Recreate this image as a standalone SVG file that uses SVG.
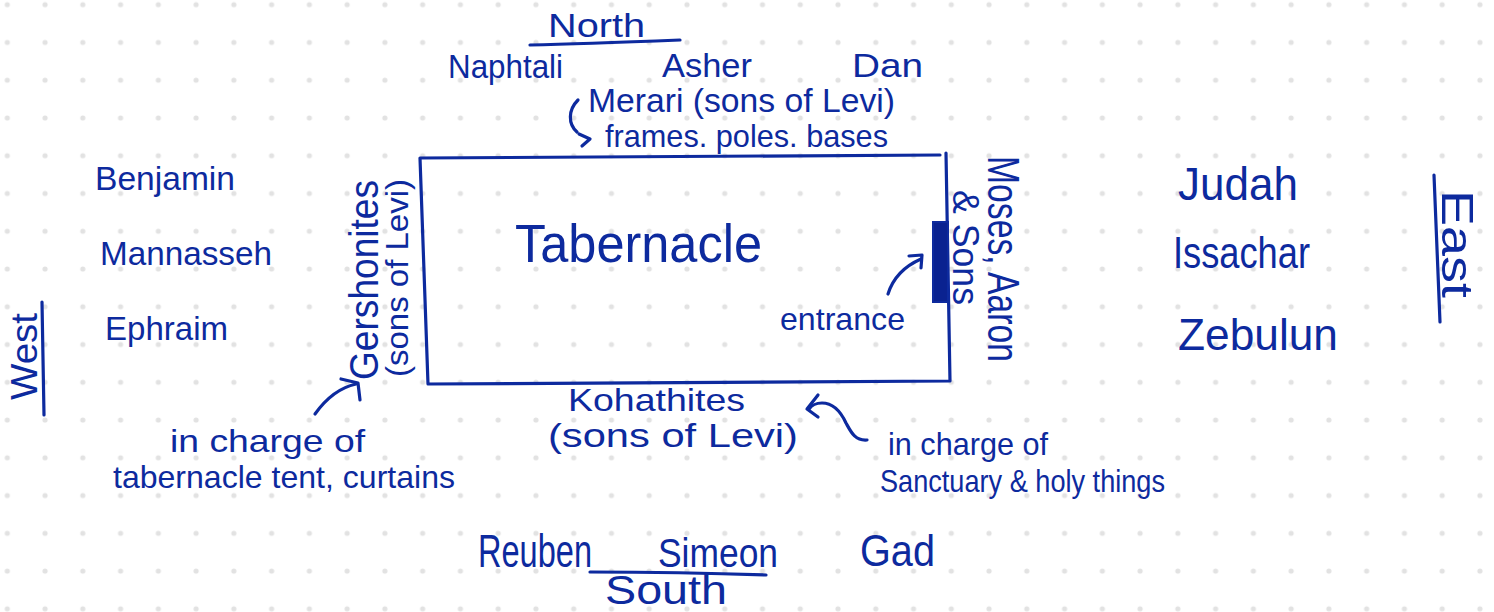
<svg xmlns="http://www.w3.org/2000/svg" width="1494" height="612" viewBox="0 0 1494 612">
  <defs>
    <pattern id="dots" patternUnits="userSpaceOnUse" x="-11.58" y="-14.22" width="37.76" height="37.76">
      <circle cx="18.88" cy="18.88" r="2.6" fill="#e2e2e2"/>
    </pattern>
    <style>
      text { font-family: "Liberation Sans", "DejaVu Sans", sans-serif; fill: #0d2a9e; }
      .ink { fill: none; stroke: #0d2a9e; stroke-width: 3.2; stroke-linecap: round; stroke-linejoin: round; }
    </style>
  </defs>
  <rect width="1494" height="612" fill="#ffffff"/>
  <rect width="1494" height="612" fill="url(#dots)"/>

  <g id="tabernacle">
    <path class="ink" d="M 420 158 L 940 155 M 946 153 L 950 381 L 428 384 L 420 158"/>
    <text x="515" y="262" font-size="54" textLength="247" lengthAdjust="spacingAndGlyphs">Tabernacle</text>
  </g>
  <g id="entrance">
    <rect x="933" y="222" width="15" height="80" fill="#0a2290" stroke="#0d2a9e" stroke-width="2"/>
    <text x="780" y="330" font-size="32" textLength="125" lengthAdjust="spacingAndGlyphs">entrance</text>
  </g>

  <g id="north">
    <text x="548" y="37" font-size="34" textLength="97" lengthAdjust="spacingAndGlyphs">North</text>
    <path class="ink" d="M 530 45 C 580 44, 630 42, 680 40"/>
  </g>
  <g id="naphtali"><text x="448" y="78" font-size="34" textLength="115" lengthAdjust="spacingAndGlyphs">Naphtali</text></g>
  <g id="asher"><text x="662" y="77" font-size="34" textLength="90" lengthAdjust="spacingAndGlyphs">Asher</text></g>
  <g id="dan"><text x="852" y="77" font-size="34" textLength="71" lengthAdjust="spacingAndGlyphs">Dan</text></g>
  <g id="merari">
    <text x="588" y="112" font-size="34" textLength="307" lengthAdjust="spacingAndGlyphs">Merari (sons of Levi)</text>
    <text x="605" y="147" font-size="32" textLength="283" lengthAdjust="spacingAndGlyphs">frames. poles. bases</text>
  </g>

  <g id="benjamin"><text x="95" y="190" font-size="34" textLength="140" lengthAdjust="spacingAndGlyphs">Benjamin</text></g>
  <g id="mannasseh"><text x="100" y="265" font-size="34" textLength="172" lengthAdjust="spacingAndGlyphs">Mannasseh</text></g>
  <g id="ephraim"><text x="105" y="340" font-size="34" textLength="123" lengthAdjust="spacingAndGlyphs">Ephraim</text></g>
  <g id="west">
    <text transform="translate(37,400) rotate(-90)" font-size="36" textLength="87" lengthAdjust="spacingAndGlyphs">West</text>
    <path class="ink" d="M 42 302 L 44 415"/>
  </g>

  <g id="judah"><text x="1178" y="200" font-size="46" textLength="120" lengthAdjust="spacingAndGlyphs">Judah</text></g>
  <g id="issachar"><text x="1173" y="268" font-size="44" textLength="137" lengthAdjust="spacingAndGlyphs">Issachar</text></g>
  <g id="zebulun"><text x="1178" y="350" font-size="44" textLength="160" lengthAdjust="spacingAndGlyphs">Zebulun</text></g>
  <g id="east">
    <text transform="translate(1442,190) rotate(90)" font-size="44" textLength="108" lengthAdjust="spacingAndGlyphs">East</text>
    <path class="ink" d="M 1434 175 L 1440 322"/>
  </g>

  <g id="gershonites">
    <text transform="translate(378,380) rotate(-90)" font-size="40" textLength="200" lengthAdjust="spacingAndGlyphs">Gershonites</text>
    <text transform="translate(408,377) rotate(-90)" font-size="32" textLength="198" lengthAdjust="spacingAndGlyphs">(sons of Levi)</text>
  </g>
  <g id="gershonites-note">
    <text x="170" y="452" font-size="32" textLength="195" lengthAdjust="spacingAndGlyphs">in charge of</text>
    <text x="113" y="488" font-size="32" textLength="342" lengthAdjust="spacingAndGlyphs">tabernacle tent, curtains</text>
  </g>

  <g id="moses">
    <text transform="translate(988,156) rotate(90)" font-size="44" textLength="206" lengthAdjust="spacingAndGlyphs">Moses, Aaron</text>
    <text transform="translate(953,190) rotate(90)" font-size="36" textLength="115" lengthAdjust="spacingAndGlyphs">&amp; Sons</text>
  </g>

  <g id="kohathites">
    <text x="568" y="411" font-size="32" textLength="177" lengthAdjust="spacingAndGlyphs">Kohathites</text>
    <text x="548" y="447" font-size="34" textLength="250" lengthAdjust="spacingAndGlyphs">(sons of Levi)</text>
  </g>
  <g id="kohathites-note">
    <text x="888" y="455" font-size="32" textLength="160" lengthAdjust="spacingAndGlyphs">in charge of</text>
    <text x="880" y="492" font-size="32" textLength="285" lengthAdjust="spacingAndGlyphs">Sanctuary &amp; holy things</text>
  </g>

  <g id="reuben"><text x="478" y="567" font-size="46" textLength="114" lengthAdjust="spacingAndGlyphs">Reuben</text></g>
  <g id="simeon"><text x="658" y="567" font-size="40" textLength="120" lengthAdjust="spacingAndGlyphs">Simeon</text></g>
  <g id="south">
    <path class="ink" d="M 590 572 C 650 572, 710 573, 766 575"/>
    <text x="605" y="604" font-size="40" textLength="122" lengthAdjust="spacingAndGlyphs">South</text>
  </g>
  <g id="gad"><text x="860" y="566" font-size="44" textLength="75" lengthAdjust="spacingAndGlyphs">Gad</text></g>

  <g id="connectors">
    <path class="ink" d="M 578 100 C 568 110, 568 124, 577 132"/>
    <path class="ink" d="M 579 134 L 590 139 L 582 146"/>
    <path class="ink" d="M 888 294 C 893 278, 905 266, 921 259"/>
    <path class="ink" d="M 909 256 L 922 255 L 921 268"/>
    <path class="ink" d="M 315 414 C 325 400, 338 388, 356 384"/>
    <path class="ink" d="M 341 379 L 358 383 L 360 400"/>
    <path class="ink" d="M 867 440 C 855 441, 851 432, 846 423 C 840 410, 832 403, 822 403 C 816 403, 811 406, 809 409"/>
    <path class="ink" d="M 818 395 L 807 409 L 818 417"/>
  </g>
</svg>
